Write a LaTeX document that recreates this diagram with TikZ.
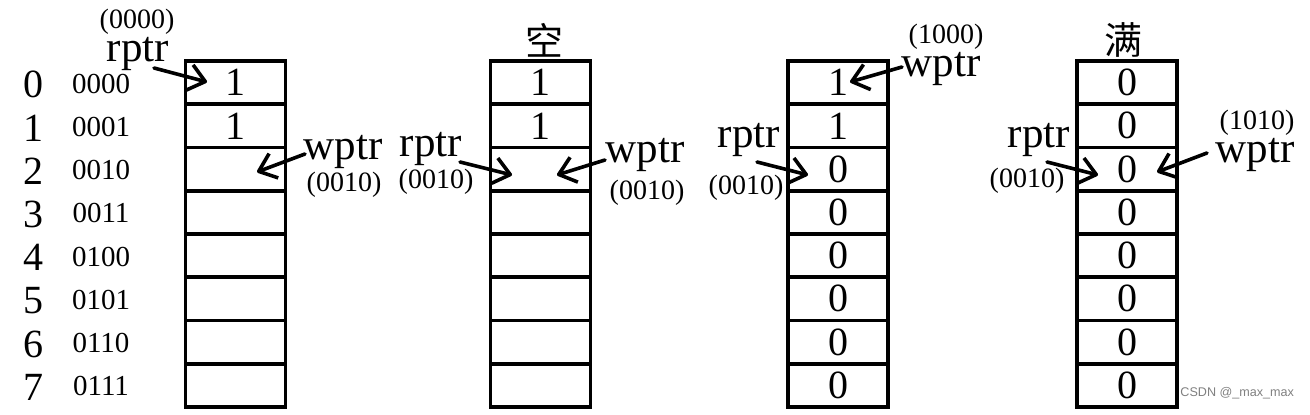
\documentclass[tikz,border=0pt]{standalone}
\usepackage{fontspec}
\setmainfont{Liberation Serif}
\newfontfamily\cjk{Noto Sans CJK SC}
\newfontfamily\wmfont{Liberation Sans}
\usetikzlibrary{arrows.meta}
\begin{document}
\begin{tikzpicture}[x=0.5pt,y=-0.5pt,
  cell/.style={draw,line width=1.9pt,minimum width=50pt,minimum height=21.625pt,inner sep=0pt,font=\fontsize{20}{20}\selectfont},
  idx/.style={font=\fontsize{20}{20}\selectfont,inner sep=0pt},
  bin/.style={font=\fontsize{14.5}{14.5}\selectfont,inner sep=0pt},
  ptr/.style={font=\fontsize{21.5}{21.5}\selectfont,inner sep=0pt,anchor=base},
  addr/.style={font=\fontsize{14}{14}\selectfont,inner sep=0pt,anchor=base},
  ttl/.style={font=\cjk\fontsize{19}{19}\selectfont,inner sep=0pt},
  pa/.style={line width=1.8pt,line cap=round,-{Straight Barb[length=8pt,width=13pt,line join=round]}}
]
\useasboundingbox (0,0) rectangle (1310,415);
% left index labels
\foreach \i/\b in {0/0000,1/0001,2/0010,3/0011,4/0100,5/0101,6/0110,7/0111}{
  \node[idx] (idx\i) at (33,{61+43.25*(\i+0.5)+2}) {\i};
  \node[bin] (bin\i) at (101,{61+43.25*(\i+0.5)+1}) {\b};
}
% column 1
\foreach \i/\v in {0/1,1/1,2/,3/,4/,5/,6/,7/}{
  \node[cell] (a\i) at (235.5,{61+43.25*(\i+0.5)}) {\v};
}
% column 2
\foreach \i/\v in {0/1,1/1,2/,3/,4/,5/,6/,7/}{
  \node[cell] (b\i) at (540.5,{61+43.25*(\i+0.5)}) {\v};
}
% column 3
\foreach \i/\v in {0/1,1/1,2/0,3/0,4/0,5/0,6/0,7/0}{
  \node[cell] (c\i) at (838,{61+43.25*(\i+0.5)}) {\v};
}
% column 4
\foreach \i/\v in {0/0,1/0,2/0,3/0,4/0,5/0,6/0,7/0}{
  \node[cell] (d\i) at (1127,{61+43.25*(\i+0.5)}) {\v};
}
% titles
\node[ttl] (t2) at (544,40) {空};
\node[ttl] (t4) at (1123,40) {满};
% column 1 pointers
\node[addr] (a1addr) at (137,29) {(0000)};
\node[ptr] (a1r) at (138,62) {rptr};
\coordinate (a1rs) at (154,68);
\coordinate (a1rt) at (207,82);
\draw[pa] (a1rs) -- (a1rt);
\node[ptr] (a1w) at (343,160) {wptr};
\node[addr] (a1waddr) at (344,192) {(0010)};
\coordinate (a1ws) at (305,154);
\coordinate (a1wt) at (257,172);
\draw[pa] (a1ws) -- (a1wt);
% column 2 pointers
\node[ptr] (b1r) at (431,157) {rptr};
\node[addr] (b1raddr) at (436,189) {(0010)};
\coordinate (b1rs) at (460,162);
\coordinate (b1rt) at (512,175);
\draw[pa] (b1rs) -- (b1rt);
\node[ptr] (b1w) at (645,163) {wptr};
\node[addr] (b1waddr) at (647,200) {(0010)};
\coordinate (b1ws) at (605,160);
\coordinate (b1wt) at (557,175);
\draw[pa] (b1ws) -- (b1wt);
% column 3 pointers
\node[addr] (c1waddr) at (946,44) {(1000)};
\node[ptr] (c1w) at (941,77) {wptr};
\coordinate (c1ws) at (902,67);
\coordinate (c1wt) at (850,82);
\draw[pa] (c1ws) -- (c1wt);
\node[ptr] (c1r) at (749,148) {rptr};
\node[addr] (c1raddr) at (746,195) {(0010)};
\coordinate (c1rs) at (757,162);
\coordinate (c1rt) at (808,175);
\draw[pa] (c1rs) -- (c1rt);
% column 4 pointers
\node[ptr] (d1r) at (1039,148) {rptr};
\node[addr] (d1raddr) at (1027,188) {(0010)};
\coordinate (d1rs) at (1047,162);
\coordinate (d1rt) at (1098,175);
\draw[pa] (d1rs) -- (d1rt);
\node[addr] (d1waddr) at (1257,130) {(1010)};
\node[ptr] (d1w) at (1255,163) {wptr};
\coordinate (d1ws) at (1207,153);
\coordinate (d1wt) at (1157,172);
\draw[pa] (d1ws) -- (d1wt);
% watermark
\node[font=\wmfont\fontsize{6.3}{6.3}\selectfont,text=gray,anchor=west,inner sep=0pt] (wm) at (1180,393) {CSDN @\_max\_max};
\end{tikzpicture}
\end{document}
